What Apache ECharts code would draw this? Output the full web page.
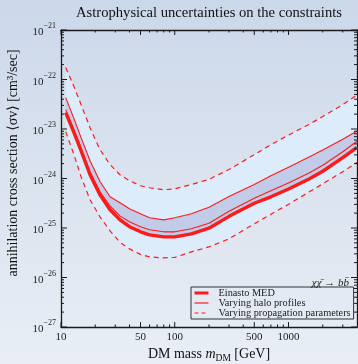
<!DOCTYPE html>
<html>
<head>
<meta charset="utf-8">
<script src="https://cdn.jsdelivr.net/npm/echarts@6/dist/echarts.min.js"></script>
<style>
  html, body { margin: 0; padding: 0; }
  body { background: linear-gradient(to bottom, #cbd8ea 0%, #dbe3ef 50%, #e9eef6 100%); }
  #chart { width: 358px; height: 364px; }
</style>
</head>
<body>
<div id="chart"></div>
<script>
// DM mass grid (GeV)
const massGeV = [11, 13, 15, 18, 22, 27, 33, 40, 50, 60, 80, 100, 140, 200, 300, 500, 700, 1000, 1500, 2000, 3000, 4000];

// Upper bounds on <sigma v> (cm^3/s), b b-bar channel
const einastoMed = [2.14e-23, 8.43e-24, 3.64e-24, 1.19e-24, 4.69e-25, 2.33e-25, 1.46e-25, 1.06e-25, 8.37e-26, 7.28e-26, 6.63e-26, 6.63e-26, 7.62e-26, 9.9e-26, 1.72e-25, 3.16e-25, 4.27e-25, 6.15e-25, 9.7e-25, 1.40e-24, 2.63e-24, 4.27e-24];
const newMed = [2.46e-23, 9.69e-24, 4.19e-24, 1.37e-24, 5.39e-25, 2.81e-25, 1.76e-25, 1.34e-25, 1.056e-25, 9.19e-26, 8.37e-26, 8.37e-26, 9.62e-26, 1.25e-25, 2.17e-25, 3.99e-25, 5.65e-25, 8.14e-25, 1.28e-24, 1.85e-24, 3.48e-24, 5.65e-24];
const burkertMed = [4.31e-23, 1.62e-23, 6.68e-24, 2.29e-24, 8.68e-25, 4.27e-25, 3.23e-25, 2.44e-25, 1.94e-25, 1.61e-25, 1.46e-25, 1.61e-25, 1.94e-25, 2.63e-25, 4.34e-25, 7.55e-25, 1.14e-24, 1.69e-24, 2.69e-24, 3.78e-24, 6.20e-24, 9.08e-24];
const einastoMin = [1.74e-22, 7.19e-23, 3.11e-23, 1.06e-23, 3.82e-24, 1.90e-24, 1.19e-24, 9.01e-25, 7.14e-25, 6.50e-25, 5.92e-25, 6.20e-25, 7.55e-25, 9.62e-25, 1.52e-24, 3.03e-24, 4.82e-24, 7.54e-24, 1.22e-23, 1.79e-23, 3.11e-23, 4.82e-23];
const einastoMax = [8.84e-24, 3.03e-24, 1.09e-24, 3.72e-25, 1.68e-25, 8.77e-26, 5.13e-26, 3.79e-26, 2.93e-26, 2.61e-26, 2.49e-26, 2.55e-26, 3.30e-26, 4.16e-26, 6.04e-26, 1.22e-25, 1.89e-25, 3.01e-25, 5.27e-25, 7.83e-25, 1.37e-24, 2.12e-24];

// Axis ticks and labels
const xLabelValues = [10, 50, 100, 500, 1000];
const xMajorTicks = [10, 50, 100, 500, 1000];
const xMinorTicks = [20, 30, 40, 60, 70, 80, 90, 200, 300, 400, 600, 700, 800, 900, 2000, 3000];
const yDecades = [1e-27, 1e-26, 1e-25, 1e-24, 1e-23, 1e-22, 1e-21];
const yDecadeExponents = [-27, -26, -25, -24, -23, -22, -21];
const yMantissas = [2, 3, 4, 5, 6, 7, 8, 9];

const X_MIN = 10, X_MAX = 4000, Y_MIN = 1e-27, Y_MAX = 1e-21;

const yMinorTicks = [];
yDecades.slice(0, -1).forEach(d => yMantissas.forEach(k => yMinorTicks.push(k * d)));

const SERIF = '"Liberation Serif", "DejaVu Serif", serif';
const INK = '#1a1a1a';
const RED = '#ff1a1a';

function pairs(ys) { return massGeV.map((m, i) => [m, ys[i]]); }

function bandPolygon(api, upper, lower) {
  const pts = [];
  for (let i = 0; i < massGeV.length; i++) pts.push(api.coord([massGeV[i], upper[i]]));
  for (let i = massGeV.length - 1; i >= 0; i--) pts.push(api.coord([massGeV[i], lower[i]]));
  return pts;
}

// Frame ticks (inside, on all four sides) and the decade labels on the left
function frameDecor(api) {
  const kids = [];
  const seg = (x1, y1, x2, y2) => kids.push({ type: 'line', shape: { x1, y1, x2, y2 }, style: { stroke: INK, lineWidth: 1 } });
  const xTick = (m, len) => {
    const b = api.coord([m, Y_MIN]), t = api.coord([m, Y_MAX]);
    seg(b[0], b[1], b[0], b[1] - len);
    seg(t[0], t[1], t[0], t[1] + len);
  };
  const yTick = (v, len) => {
    const l = api.coord([X_MIN, v]), r = api.coord([X_MAX, v]);
    seg(l[0], l[1], l[0] + len, l[1]);
    seg(r[0], r[1], r[0] - len, r[1]);
  };
  xMajorTicks.forEach(m => xTick(m, 5));
  xMinorTicks.forEach(m => xTick(m, 2.5));
  yDecades.forEach(v => yTick(v, 6));
  yMinorTicks.forEach(v => yTick(v, 3));
  yDecades.forEach((v, i) => {
    const p = api.coord([X_MIN, v]);
    kids.push({
      type: 'text', x: p[0] - 5, y: p[1],
      style: {
        text: '{b|10}{s|\u2212' + (-yDecadeExponents[i]) + '}',
        align: 'right', verticalAlign: 'middle',
        rich: {
          b: { fontFamily: SERIF, fontSize: 11, fill: '#222', lineHeight: 16, verticalAlign: 'bottom' },
          s: { fontFamily: SERIF, fontSize: 8, fill: '#222', lineHeight: 16, verticalAlign: 'top' }
        }
      }
    });
  });
  return { type: 'group', children: kids };
}

function axisDef(min, max, pos, labels) {
  return {
    type: 'log', logBase: 10, min, max, position: pos,
    axisLine: { show: true, onZero: false, lineStyle: { color: INK, width: 1.3 } },
    axisTick: { show: false },
    axisLabel: labels ? { show: true, customValues: xLabelValues, margin: 5, fontFamily: SERIF, fontSize: 11, color: '#222',
                          formatter: v => String(Math.round(v)) } : { show: false },
    splitLine: { show: false }
  };
}

const lineBase = { type: 'line', symbol: 'none', xAxisIndex: 0, yAxisIndex: 0, silent: true, z: 3, color: RED };

const chart = echarts.init(document.getElementById('chart'), null, { renderer: 'canvas' });
chart.setOption({
  animation: false,
  backgroundColor: 'transparent',
  color: [RED],
  grid: { left: 61, right: 1, top: 30, bottom: 37, outerBoundsMode: 'none' },
  xAxis: [
    axisDef(X_MIN, X_MAX, 'bottom', true),
    axisDef(X_MIN, X_MAX, 'top', false)
  ],
  yAxis: [
    axisDef(Y_MIN, Y_MAX, 'left', false),
    axisDef(Y_MIN, Y_MAX, 'right', false)
  ],
  legend: {
    orient: 'vertical', left: 191, top: 287,
    padding: [1, 3, 1, 2], itemGap: 0, itemWidth: 14, itemHeight: 9,
    borderColor: '#333', borderWidth: 1, backgroundColor: 'transparent',
    selectedMode: false,
    textStyle: { fontFamily: SERIF, fontSize: 10.3, lineHeight: 9.7, color: '#222', padding: [0, 0, 0, 5] },
    data: [
      { name: 'Einasto MED', itemStyle: { opacity: 0 }, lineStyle: { width: 3, color: RED } },
      { name: 'Varying halo profiles', itemStyle: { opacity: 0 }, lineStyle: { width: 1.2, color: RED } },
      { name: 'Varying propagation parameters', itemStyle: { opacity: 0 }, lineStyle: { width: 1.2, color: RED, type: [4, 3] } }
    ]
  },
  graphic: [
    { type: 'text', x: 209, y: 13, style: { text: 'Astrophysical uncertainties on the constraints', font: '14.6px ' + SERIF, fill: '#111', align: 'center', verticalAlign: 'middle' } },
    { type: 'text', x: 13, y: 163, rotation: Math.PI / 2, style: { text: 'annihilation cross section \u27e8\u03c3v\u27e9 [cm\u00b3/sec]', font: '14px ' + SERIF, fill: '#111', align: 'center', verticalAlign: 'middle' } },
    { type: 'text', x: 209, y: 354, style: {
        text: 'DM mass {i|m}{s|DM} [GeV]', font: '14px ' + SERIF, fill: '#111', align: 'center', verticalAlign: 'middle',
        rich: { i: { fontStyle: 'italic', fontFamily: SERIF, fontSize: 14, lineHeight: 18, verticalAlign: 'middle' },
                s: { fontFamily: SERIF, fontSize: 9.5, lineHeight: 18, verticalAlign: 'bottom' } } } },
    { type: 'text', x: 349, y: 283, style: { text: '\u03c7\u03c7\u0304 \u2192 bb\u0304', font: 'italic 11px ' + SERIF, fill: '#222', align: 'right', verticalAlign: 'middle' } }
  ],
  series: [
    {
      type: 'custom', xAxisIndex: 0, yAxisIndex: 0, silent: true, z: 1,
      data: [[100, 1e-24]],
      renderItem: (params, api) => ({
        type: 'group',
        children: [
          { type: 'polygon', shape: { points: bandPolygon(api, einastoMin, einastoMax) }, style: { fill: '#dcecfb' } },
          { type: 'polygon', shape: { points: bandPolygon(api, burkertMed, einastoMed) }, style: { fill: '#c2cbe7' } }
        ]
      })
    },
    {
      type: 'custom', xAxisIndex: 0, yAxisIndex: 0, silent: true, z: 6, clip: false,
      data: [[100, 1e-24]],
      renderItem: (params, api) => frameDecor(api)
    },
    Object.assign({}, lineBase, { name: 'Varying propagation parameters', data: pairs(einastoMin), lineStyle: { color: RED, width: 1.2, type: [5, 4] } }),
    Object.assign({}, lineBase, { name: 'Varying propagation parameters', data: pairs(einastoMax), lineStyle: { color: RED, width: 1.2, type: [5, 4] } }),
    Object.assign({}, lineBase, { name: 'Varying halo profiles', data: pairs(burkertMed), lineStyle: { color: RED, width: 1.1 } }),
    Object.assign({}, lineBase, { name: 'Varying halo profiles', data: pairs(newMed), lineStyle: { color: RED, width: 1.1 } }),
    Object.assign({}, lineBase, { name: 'Einasto MED', data: pairs(einastoMed), lineStyle: { color: RED, width: 3.4 }, z: 4 }),
    {
      type: 'scatter', xAxisIndex: 0, yAxisIndex: 0, silent: true, z: 5,
      symbolSize: 1, itemStyle: { opacity: 0 },
      label: { show: true, position: 'right', distance: 0, formatter: '{b}', color: RED, fontFamily: SERIF, fontSize: 10.5 },
      data: [
        { name: 'Einasto MIN', value: [40.4, 9.0e-25] },
        { name: 'Burkert MED', value: [40.4, 2.23e-25] },
        { name: 'NEW MED', value: [44.7, 9.6e-26] },
        { name: 'Einasto MAX', value: [40.4, 3.97e-26] }
      ]
    }
  ]
});
</script>
</body>
</html>
